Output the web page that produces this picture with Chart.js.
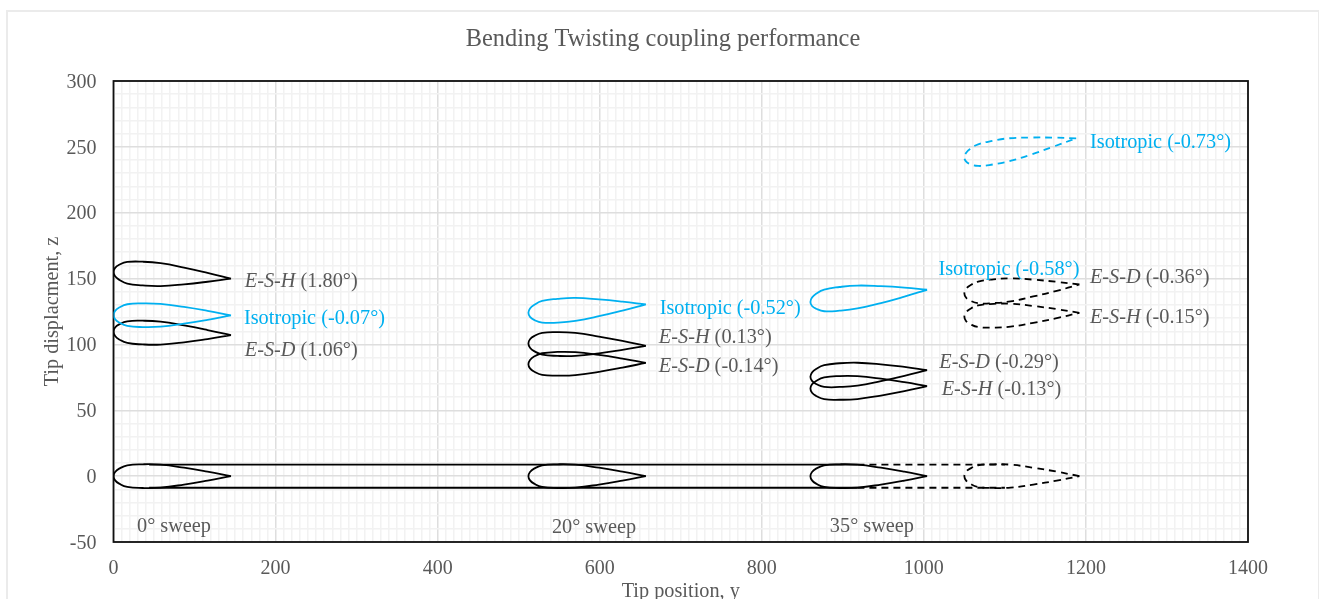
<!DOCTYPE html>
<html lang="en">
<head>
  <meta charset="UTF-8" />
  <title>Bending Twisting coupling performance</title>
  <style>
    html, body { margin: 0; padding: 0; background: #fff; overflow: hidden; height: 599px; }
    #frame {
      position: absolute;
      left: 6px;
      top: 10px;
      width: 1310px;
      height: 640px;
      border: 2px solid #ebebeb;
    }
    #wrap {
      position: absolute;
      left: 7px;
      top: 11px;
      width: 1310px;
      height: 588px;
    }
  </style>
</head>
<body>
  <div id="frame"></div>
  <div id="wrap"><canvas id="grafico"></canvas></div>

  <script src="https://cdn.jsdelivr.net/npm/chart.js"></script>
  <script>
    const titleText = "Bending Twisting coupling performance";
    const xAxisTitle = "Tip position, y";
    const yAxisTitle = "Tip displacment, z";

    // spanwise stations of each section, trailing edge round to trailing edge
    const xSweep0 = [145, 116, 87, 58, 36, 17, 7, 2, 0, 2, 7, 17, 36, 58, 87, 116, 145];
    const xSweep20 = [657, 628, 599, 570, 548, 529, 519, 514, 512, 514, 519, 529, 548, 570, 599, 628, 657];
    const xSweep35 = [1004, 976, 947, 918, 896, 877, 867, 862, 860, 862, 867, 877, 896, 918, 947, 976, 1004];
    const xTip = [1192, 1164, 1135, 1107, 1086, 1067, 1057, 1052, 1050, 1052, 1057, 1067, 1086, 1107, 1135, 1164, 1192];
    const xTipIso = [1188, 1160, 1133, 1105, 1085, 1067, 1057, 1052, 1050, 1052, 1057, 1067, 1085, 1105, 1133, 1160, 1188];

    // undeformed section
    const zRest = [0, 3.4, 6.4, 8.7, 9, 8.2, 5.7, 3.2, 0, -3.2, -5.7, -8.2, -9, -8.7, -6.4, -3.4, 0];

    // 0 deg sweep
    const zEsh0 = [150, 154.4, 158.4, 161.7, 162.8, 162.6, 160.5, 158.1, 155, 151.7, 149.1, 146.2, 144.8, 144.3, 145.6, 147.6, 150];
    const zIso0 = [122, 125.5, 128.5, 130.8, 131.2, 130.5, 128, 125.5, 122.3, 119.1, 116.6, 114.1, 113.2, 113.5, 115.8, 118.7, 122];
    const zEsd0 = [107, 110.9, 114.4, 117.3, 118, 117.5, 115.2, 112.8, 109.6, 106.4, 103.8, 101.1, 100, 99.9, 101.6, 104.1, 107];

    // 20 deg sweep
    const zIso20 = [130.4, 132.5, 134.2, 135.3, 134.6, 133, 130, 127.3, 124, 120.9, 118.6, 116.6, 116.6, 117.9, 121.4, 125.7, 130.4];
    const zEsh20 = [98.9, 102.7, 106, 108.7, 109.3, 108.7, 106.3, 103.9, 100.7, 97.5, 94.9, 92.3, 91.3, 91.3, 93.2, 95.9, 98.9];
    const zEsd20 = [86, 89.2, 92, 94.1, 94.3, 93.3, 90.8, 88.2, 85, 81.8, 79.4, 76.9, 76.3, 76.7, 79.2, 82.4, 86];

    // 35 deg sweep, mid span
    const zIso35 = [141.5, 143.1, 144.2, 144.7, 143.6, 141.6, 138.5, 135.6, 132.3, 129.2, 127.1, 125.2, 125.6, 127.3, 131.4, 136.3, 141.5];
    const zEsd35 = [80.5, 82.9, 84.9, 86.1, 85.7, 84.2, 81.4, 78.7, 75.4, 72.3, 70, 67.8, 67.7, 68.7, 72.1, 76.1, 80.5];
    const zEsh35 = [68.3, 71.3, 74, 75.9, 76, 74.9, 72.3, 69.7, 66.5, 63.3, 60.9, 58.5, 58, 58.5, 61.2, 64.5, 68.3];

    // 35 deg sweep, tip (dashed)
    const zEsdTip = [145.5, 147.5, 149.2, 150.1, 149.4, 147.7, 144.7, 142, 138.7, 135.6, 133.3, 131.3, 131.4, 132.7, 136.4, 140.7, 145.5];
    const zEshTip = [124, 126.8, 129.2, 130.9, 130.8, 129.6, 126.9, 124.2, 121, 117.8, 115.5, 113.2, 112.8, 113.5, 116.4, 120, 124];
    const zIsoTip = [256.5, 257, 257.1, 256.5, 254.6, 251.9, 248.4, 245.4, 242, 239, 237, 235.5, 236.6, 239.1, 244.3, 250.2, 256.5];

    // spar edges
    const xSparSolid = [44, 918];
    const xSparDashed = [918, 1100];
    const zSparTop = [8.8, 8.8];
    const zSparBottom = [-8.8, -8.8];

    // text labels, [italic part, plain part]
    const labelTexts = [
      ["E-S-H", " (1.80°)"], ["", "Isotropic (-0.07°)"], ["E-S-D", " (1.06°)"],
      ["", "Isotropic (-0.52°)"], ["E-S-H", " (0.13°)"], ["E-S-D", " (-0.14°)"],
      ["", "Isotropic (-0.58°)"], ["E-S-D", " (-0.36°)"], ["E-S-H", " (-0.15°)"],
      ["E-S-D", " (-0.29°)"], ["E-S-H", " (-0.13°)"], ["", "Isotropic (-0.73°)"],
      ["", "0° sweep"], ["", "20° sweep"], ["", "35° sweep"]
    ];
    const labelX = [162, 161, 162, 674, 673, 673, 1018, 1205, 1205, 1019, 1022, 1205, 29, 541, 884];
    const labelZ = [147.8, 119.4, 95.1, 127, 105, 83, 156.7, 150.7, 120.2, 86, 65.5, 253.1, -38.5, -39.3, -38.5];

    const preto = "#000000";
    const azul = "#00B0F0";
    const cinza = "#595959";
    const fonte = '"Liberation Serif", "Times New Roman", serif';

    function serie(xs, zs, cor, tracejado, suave) {
      return {
        data: xs.map((x, i) => ({ x: x, y: zs[i] })),
        borderColor: cor,
        borderWidth: 1.8,
        borderDash: tracejado ? [7, 5] : [],
        pointRadius: 0,
        showLine: true,
        tension: suave ? 0.45 : 0,
        fill: false
      };
    }

    const datasets = [
      serie(xSweep0, zRest, preto, false, true),
      serie(xSweep20, zRest, preto, false, true),
      serie(xSweep35, zRest, preto, false, true),
      serie(xTip, zRest, preto, true, true),
      serie(xSweep0, zEsh0, preto, false, true),
      serie(xSweep0, zIso0, azul, false, true),
      serie(xSweep0, zEsd0, preto, false, true),
      serie(xSweep20, zIso20, azul, false, true),
      serie(xSweep20, zEsh20, preto, false, true),
      serie(xSweep20, zEsd20, preto, false, true),
      serie(xSweep35, zIso35, azul, false, true),
      serie(xSweep35, zEsd35, preto, false, true),
      serie(xSweep35, zEsh35, preto, false, true),
      serie(xTip, zEsdTip, preto, true, true),
      serie(xTip, zEshTip, preto, true, true),
      serie(xTipIso, zIsoTip, azul, true, true),
      serie(xSparSolid, zSparTop, preto, false, false),
      serie(xSparSolid, zSparBottom, preto, false, false),
      serie(xSparDashed, zSparTop, preto, true, false),
      serie(xSparDashed, zSparBottom, preto, true, false)
    ];

    // box round the plot, drawn after the grid so grid lines do not cut it
    const moldura = {
      id: "moldura",
      beforeDatasetsDraw(chart) {
        const { ctx, chartArea: a } = chart;
        ctx.save();
        ctx.strokeStyle = "#111111";
        ctx.lineWidth = 1.8;
        ctx.strokeRect(a.left, a.top, a.right - a.left, a.bottom - a.top);
        ctx.restore();
      }
    };

    // title is centred on the whole canvas, the built in one follows layout padding
    // labels sit in data coordinates, the italic run is measured so the plain run follows it
    const rotulos = {
      id: "rotulos",
      afterDatasetsDraw(chart) {
        const { ctx, scales, width } = chart;
        ctx.save();
        ctx.textBaseline = "middle";
        ctx.textAlign = "center";
        ctx.fillStyle = cinza;
        ctx.font = "24.4px " + fonte;
        ctx.fillText(titleText, width / 2 + 1, 29);
        ctx.textAlign = "left";
        labelTexts.forEach((t, i) => {
          let px = scales.x.getPixelForValue(labelX[i]);
          const py = scales.y.getPixelForValue(labelZ[i]);
          ctx.fillStyle = t[1].startsWith("Isotropic") ? azul : cinza;
          if (t[0]) {
            ctx.font = "italic 20.3px " + fonte;
            ctx.fillText(t[0], px, py);
            px += ctx.measureText(t[0]).width;
          }
          ctx.font = "20.3px " + fonte;
          ctx.fillText(t[1], px, py);
        });
        ctx.restore();
      }
    };

    function corGrade(valor, passo) {
      return valor % passo === 0 ? "#dedede" : "#f2f2f2";
    }

    new Chart(document.getElementById("grafico").getContext("2d"), {
      type: "scatter",
      data: { datasets: datasets },
      plugins: [moldura, rotulos],
      options: {
        responsive: true,
        maintainAspectRatio: false,
        animation: false,
        layout: { padding: { left: 33, right: 69, top: 70, bottom: 0 } },
        plugins: {
          legend: { display: false },
          tooltip: { enabled: false },
          title: { display: false }
        },
        scales: {
          x: {
            type: "linear",
            min: 0,
            max: 1400,
            afterFit(s) { s.height = 57; },
            afterBuildTicks(s) {
              s.ticks = [];
              for (let v = 0; v <= 1400; v += 10) s.ticks.push({ value: v });
            },
            grid: {
              color: c => corGrade(c.tick.value, 200),
              lineWidth: 1.5,
              drawTicks: false
            },
            border: { display: false },
            ticks: {
              autoSkip: false,
              maxRotation: 0,
              padding: 15,
              color: cinza,
              font: { family: fonte, size: 20 },
              callback: v => (v % 200 === 0 ? v : "")
            },
            title: {
              display: true,
              text: xAxisTitle,
              color: cinza,
              font: { family: fonte, size: 20.3 },
              padding: { top: 0, bottom: -5 }
            }
          },
          y: {
            type: "linear",
            min: -50,
            max: 300,
            afterFit(s) { s.width = 73.5; },
            afterBuildTicks(s) {
              s.ticks = [];
              for (let v = -50; v <= 300; v += 10) s.ticks.push({ value: v });
            },
            grid: {
              color: c => corGrade(c.tick.value, 50),
              lineWidth: 1.5,
              drawTicks: false
            },
            border: { display: false },
            ticks: {
              autoSkip: false,
              padding: 17,
              labelOffset: 1.5,
              color: cinza,
              font: { family: fonte, size: 20 },
              callback: v => (v % 50 === 0 ? v : "")
            },
            title: {
              display: true,
              text: yAxisTitle,
              color: cinza,
              font: { family: fonte, size: 20.3 },
              padding: { top: 0, bottom: 0 }
            }
          }
        }
      }
    });
  </script>
</body>
</html>
